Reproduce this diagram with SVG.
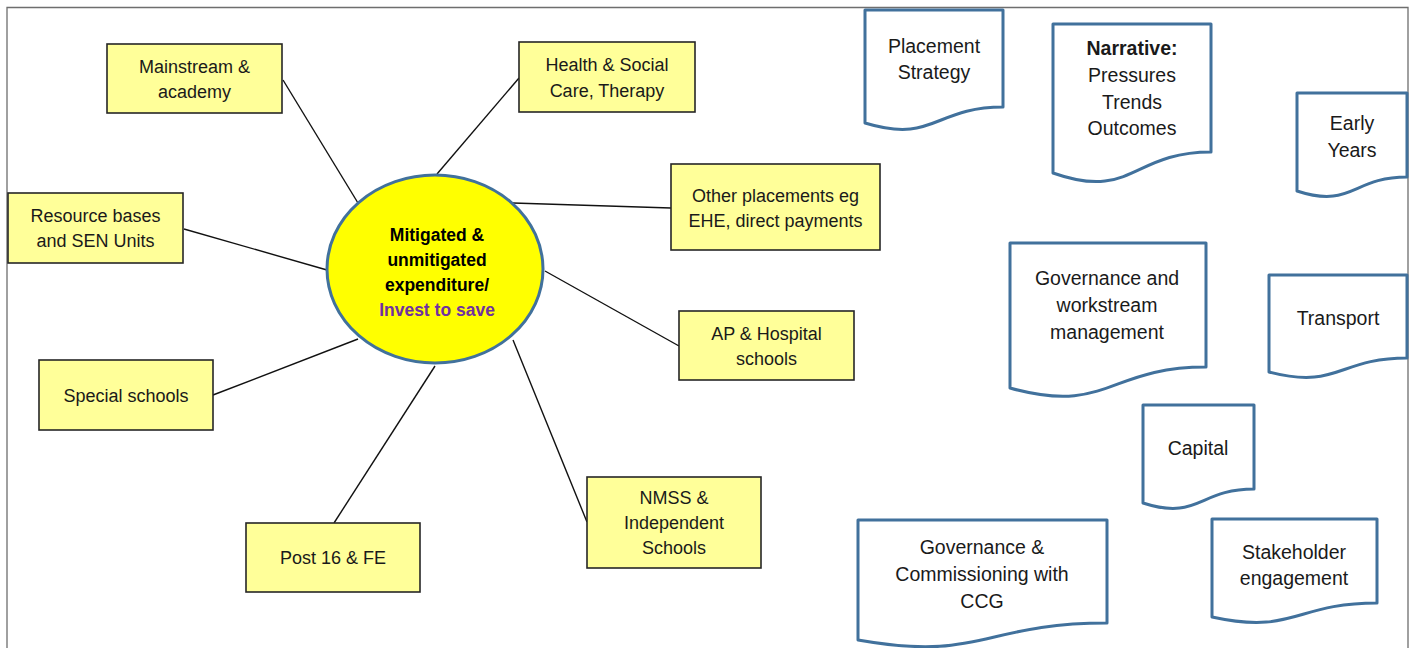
<svg xmlns="http://www.w3.org/2000/svg" width="1411" height="648" viewBox="0 0 1411 648">
<style>
.box{fill:#FFFF99;stroke:#262626;stroke-width:1.6}
.doc{fill:#FFFFFF;stroke:#41719C;stroke-width:3;stroke-linejoin:round}
.conn line{stroke:#111;stroke-width:1.4}
text{font-family:"Liberation Sans",Arial,sans-serif;font-size:18px;fill:#1a1a1a;text-anchor:middle}
.d{font-size:19.5px}
.c{font-size:17.5px;font-weight:bold;fill:#000}
.p{fill:#7030A0}
.b{font-weight:bold}
</style>
<rect x="0" y="0" width="1411" height="648" fill="#FFFFFF"/>
<path d="M7,648 V7.5 H1408 V648" fill="none" stroke="#6e6e6e" stroke-width="1.3"/>
<g id="connectors" class="conn">
<line x1="283" y1="80" x2="358" y2="203"/>
<line x1="184" y1="229" x2="327" y2="270"/>
<line x1="437" y1="174" x2="519" y2="78"/>
<line x1="513" y1="203" x2="671" y2="208"/>
<line x1="545" y1="271" x2="679" y2="346"/>
<line x1="213" y1="395" x2="358" y2="339"/>
<line x1="435" y1="366" x2="334" y2="523"/>
<line x1="513" y1="340" x2="587" y2="522"/>
</g>
<g id="center">
<ellipse cx="435" cy="269" rx="108" ry="94" fill="#FFFF00" stroke="#41719C" stroke-width="3"/>
<text class="c" x="437" y="241">Mitigated &amp;</text>
<text class="c" x="437" y="266">unmitigated</text>
<text class="c" x="437" y="291">expenditure/</text>
<text class="c p" x="437" y="316">Invest to save</text>
</g>
<g id="mainstream">
<rect class="box" x="107" y="44" width="175" height="69"/>
<text x="194.5" y="73">Mainstream &amp;</text>
<text x="194.5" y="98">academy</text>
</g>
<g id="health">
<rect class="box" x="519" y="42" width="176" height="70"/>
<text x="607" y="71">Health &amp; Social</text>
<text x="607" y="97">Care, Therapy</text>
</g>
<g id="other">
<rect class="box" x="671" y="164" width="209" height="86"/>
<text x="775.5" y="202">Other placements eg</text>
<text x="775.5" y="227">EHE, direct payments</text>
</g>
<g id="resource">
<rect class="box" x="8" y="193" width="175" height="70"/>
<text x="95.5" y="222">Resource bases</text>
<text x="95.5" y="247">and SEN Units</text>
</g>
<g id="ap">
<rect class="box" x="679" y="311" width="175" height="69"/>
<text x="766.5" y="340">AP &amp; Hospital</text>
<text x="766.5" y="365">schools</text>
</g>
<g id="special">
<rect class="box" x="39" y="360" width="174" height="70"/>
<text x="126" y="402">Special schools</text>
</g>
<g id="nmss">
<rect class="box" x="587" y="477" width="174" height="91"/>
<text x="674" y="504">NMSS &amp;</text>
<text x="674" y="529">Independent</text>
<text x="674" y="554">Schools</text>
</g>
<g id="post16">
<rect class="box" x="246" y="523" width="174" height="69"/>
<text x="333" y="564">Post 16 &amp; FE</text>
</g>
<g id="placement">
<path class="doc" d="M865,10 H1003 V107 C934,107 934,144 865,123 Z"/>
<text class="d" x="934" y="53">Placement</text>
<text class="d" x="934" y="79">Strategy</text>
</g>
<g id="narrative">
<path class="doc" d="M1053,24 H1211 V152 C1132,152 1132,201 1053,173 Z"/>
<text class="d b" x="1132" y="55">Narrative:</text>
<text class="d" x="1132" y="82">Pressures</text>
<text class="d" x="1132" y="109">Trends</text>
<text class="d" x="1132" y="135">Outcomes</text>
</g>
<g id="early-years">
<path class="doc" d="M1297,93 H1407 V177 C1352,177 1352,209 1297,191 Z"/>
<text class="d" x="1352" y="130">Early</text>
<text class="d" x="1352" y="157">Years</text>
</g>
<g id="governance-workstream">
<path class="doc" d="M1010,243 H1206 V367 C1108,367 1108,415 1010,388 Z"/>
<text class="d" x="1107" y="285">Governance and</text>
<text class="d" x="1107" y="312">workstream</text>
<text class="d" x="1107" y="339">management</text>
</g>
<g id="transport">
<path class="doc" d="M1269,275 H1407 V358 C1338,358 1338,390 1269,372 Z"/>
<text class="d" x="1338" y="325">Transport</text>
</g>
<g id="capital">
<path class="doc" d="M1143,405 H1254 V489 C1198.5,489 1198.5,521 1143,503 Z"/>
<text class="d" x="1198" y="455">Capital</text>
</g>
<g id="governance-commissioning">
<path class="doc" d="M858,520 H1107 V623 C982.5,623 982.5,662 858,640 Z"/>
<text class="d" x="982" y="554">Governance &amp;</text>
<text class="d" x="982" y="581">Commissioning with</text>
<text class="d" x="982" y="608">CCG</text>
</g>
<g id="stakeholder">
<path class="doc" d="M1212,519 H1377 V603 C1294.5,603 1294.5,635 1212,617 Z"/>
<text class="d" x="1294" y="559">Stakeholder</text>
<text class="d" x="1294" y="585">engagement</text>
</g>
</svg>
